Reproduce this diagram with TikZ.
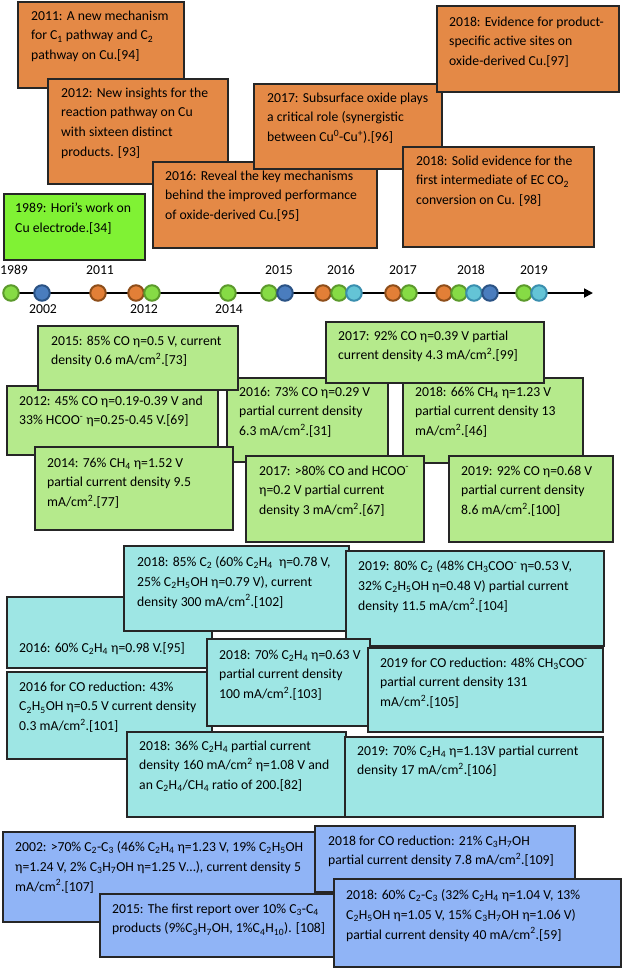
\documentclass[tikz,border=0pt]{standalone}
\usepackage{fontspec}
\setmainfont{Carlito}
\usetikzlibrary{arrows.meta}
\newcommand\subx[1]{\textsubscript{#1}}
\newcommand\supx[1]{\textsuperscript{#1}}
\definecolor{orfill}{RGB}{228,137,70}
\definecolor{limefill}{RGB}{128,242,52}
\definecolor{gfill}{RGB}{181,234,140}
\definecolor{cfill}{RGB}{158,230,228}
\definecolor{bfill}{RGB}{144,180,246}
\definecolor{edge}{RGB}{38,38,38}
\definecolor{cgf}{RGB}{134,219,69}\definecolor{cgd}{RGB}{92,154,44}
\definecolor{cof}{RGB}{226,127,55}\definecolor{cod}{RGB}{142,78,26}
\definecolor{cbf}{RGB}{74,125,190}\definecolor{cbd}{RGB}{43,83,133}
\definecolor{ccf}{RGB}{100,196,214}\definecolor{ccd}{RGB}{58,143,175}
\tikzset{
  box/.style={rectangle,draw=edge,line width=1.3pt,inner sep=0pt,outer sep=0pt,anchor=north west},
  obox/.style={box,fill=orfill},
  lbox/.style={box,fill=limefill},
  gbox/.style={box,fill=gfill},
  cbox/.style={box,fill=cfill},
  bbox/.style={box,fill=bfill},
  txt/.style={anchor=north west,inner sep=0pt,align=left,font=\fontsize{13.7}{19.7}\selectfont,execute at begin node=\rule{0pt}{11pt}},
  yr/.style={anchor=base,inner sep=0pt,font=\fontsize{13.7}{16}\selectfont},
  dot/.style={circle,minimum size=15.5pt,inner sep=0pt,line width=2pt},
  dg/.style={dot,draw=cgd,fill=cgf},
  do/.style={dot,draw=cod,fill=cof},
  db/.style={dot,draw=cbd,fill=cbf},
  dc/.style={dot,draw=ccd,fill=ccf},
}
\begin{document}
\begin{tikzpicture}[x=1pt,y=-1pt]
\useasboundingbox (0,0) rectangle (623,969);
% ---------- orange ----------
\node[obox,minimum width=166,minimum height=86] (o1) at (18,2) {};
\node[txt] (o1t) at (31,10.5) {2011: A new mechanism\\for C\subx{1} pathway and C\subx{2}\\pathway on Cu.[94]};
\node[obox,minimum width=180,minimum height=105] (o2) at (48,79) {};
\node[txt] (o2t) at (61,87.5) {2012: New insights for the\\reaction pathway on Cu\\with sixteen distinct\\products. [93]};
\node[obox,minimum width=224,minimum height=86] (o4) at (153,162) {};
\node[txt] (o4t) at (165,170.5) {2016: Reveal the key mechanisms\\behind the improved performance\\of oxide-derived Cu.[95]};
\node[obox,minimum width=188,minimum height=85] (o3) at (254,84) {};
\node[txt] (o3t) at (267,92.5) {2017: Subsurface oxide plays\\a critical role (synergistic\\between Cu\supx{0}-Cu\supx{+}).[96]};
\node[obox,minimum width=191,minimum height=100] (o6) at (403,147) {};
\node[txt] (o6t) at (416,155.5) {2018: Solid evidence for the\\first intermediate of EC CO\subx{2}\\conversion on Cu. [98]};
\node[obox,minimum width=182,minimum height=86] (o5) at (437,6) {};
\node[txt] (o5t) at (449,16.5) {2018: Evidence for product-\\specific active sites on\\oxide-derived Cu.[97]};
\node[lbox,minimum width=141,minimum height=66] (g0) at (4,194) {};
\node[txt] (g0t) at (15,202.5) {1989: Hori’s work on\\Cu electrode.[34]};
% ---------- timeline ----------
\coordinate (ts) at (6,293);
\coordinate (te) at (593,293);
\draw[line width=1.8pt,-{Triangle[length=9pt,width=9pt]}] (ts) -- (te);
\node[dg] (c1) at (11,293) {};
\node[db] (c2) at (42,293) {};
\node[do] (c3) at (98,293) {};
\node[do] (c4) at (136,293) {};
\node[dg] (c5) at (152,293) {};
\node[dg] (c6) at (228,293) {};
\node[dg] (c7) at (269,293) {};
\node[db] (c8) at (285,293) {};
\node[do] (c9) at (323,293) {};
\node[dg] (c10) at (339,293) {};
\node[dc] (c11) at (354,293) {};
\node[do] (c12) at (393,293) {};
\node[dg] (c13) at (409,293) {};
\node[do] (c14) at (444,293) {};
\node[dg] (c15) at (459,293) {};
\node[dc] (c16) at (474,293) {};
\node[db] (c17) at (490,293) {};
\node[dg] (c18) at (524,293) {};
\node[dc] (c19) at (539,293) {};
\node[yr] (y1989) at (14,274) {1989};
\node[yr] (y2011) at (100,274) {2011};
\node[yr] (y2015) at (279,274) {2015};
\node[yr] (y2016) at (341,274) {2016};
\node[yr] (y2017) at (403,274) {2017};
\node[yr] (y2018) at (471,274) {2018};
\node[yr] (y2019) at (534,274) {2019};
\node[yr] (y2002) at (43,313) {2002};
\node[yr] (y2012) at (144,313) {2012};
\node[yr] (y2014) at (229,313) {2014};
% ---------- green ----------
\node[gbox,minimum width=211,minimum height=69] (g2) at (7,386) {};
\node[txt] (g2t) at (19,395.5) {2012: 45\% CO η=0.19-0.39 V and\\33\% HCOO\supx{-} η=0.25-0.45 V.[69]};
\node[gbox,minimum width=161,minimum height=84] (g4) at (227,378) {};
\node[txt] (g4t) at (239,386.5) {2016: 73\% CO η=0.29 V\\partial current density\\6.3 mA/cm\supx{2}.[31]};
\node[gbox,minimum width=180,minimum height=85] (g6) at (403,378) {};
\node[txt] (g6t) at (415,386.5) {2018: 66\% CH\subx{4} η=1.23 V\\partial current density 13\\mA/cm\supx{2}.[46]};
\node[gbox,minimum width=200,minimum height=64] (g1) at (38,326) {};
\node[txt] (g1t) at (51,335.5) {2015: 85\% CO η=0.5 V, current\\density 0.6 mA/cm\supx{2}.[73]};
\node[gbox,minimum width=198,minimum height=83] (g3) at (35,447) {};
\node[txt] (g3t) at (47,457.5) {2014: 76\% CH\subx{4} η=1.52 V\\partial current density 9.5\\mA/cm\supx{2}.[77]};
\node[gbox,minimum width=218,minimum height=61] (g5) at (326,322) {};
\node[txt] (g5t) at (338,330.5) {2017: 92\% CO η=0.39 V partial\\current density 4.3 mA/cm\supx{2}.[99]};
\node[gbox,minimum width=178,minimum height=86] (g7) at (246,456) {};
\node[txt] (g7t) at (259,465.5) {2017: >80\% CO and HCOO\supx{-}\\η=0.2 V partial current\\density 3 mA/cm\supx{2}.[67]};
\node[gbox,minimum width=164,minimum height=86] (g8) at (449,456) {};
\node[txt] (g8t) at (461,465.5) {2019: 92\% CO η=0.68 V\\partial current density\\8.6 mA/cm\supx{2}.[100]};
% ---------- cyan ----------
\node[cbox,minimum width=205,minimum height=71] (k2) at (7,597) {};
\node[txt] (k2t) at (19,641.5) {2016: 60\% C\subx{2}H\subx{4} η=0.98 V.[95]};
\node[cbox,minimum width=205,minimum height=87] (k3) at (7,672) {};
\node[txt] (k3t) at (19,681.5) {2016 for CO reduction: 43\%\\C\subx{2}H\subx{5}OH η=0.5 V current density\\0.3 mA/cm\supx{2}.[101]};
\node[cbox,minimum width=225,minimum height=85] (k1) at (124,546) {};
\node[txt] (k1t) at (137,556.5) {2018: 85\% C\subx{2} (60\% C\subx{2}H\subx{4}\ \ η=0.78 V,\\25\% C\subx{2}H\subx{5}OH η=0.79 V), current\\density 300 mA/cm\supx{2}.[102]};
\node[cbox,minimum width=258,minimum height=95] (k6) at (346,551) {};
\node[txt] (k6t) at (358,560.5) {2019: 80\% C\subx{2} (48\% CH\subx{3}COO\supx{-} η=0.53 V,\\32\% C\subx{2}H\subx{5}OH η=0.48 V) partial current\\density 11.5 mA/cm\supx{2}.[104]};
\node[cbox,minimum width=163,minimum height=87] (k4) at (207,639) {};
\node[txt] (k4t) at (219,649.5) {2018: 70\% C\subx{2}H\subx{4} η=0.63 V\\partial current density\\100 mA/cm\supx{2}.[103]};
\node[cbox,minimum width=235,minimum height=84] (k7) at (368,648) {};
\node[txt] (k7t) at (380,657.5) {2019 for CO reduction: 48\% CH\subx{3}COO\supx{-}\\partial current density 131\\mA/cm\supx{2}.[105]};
\node[cbox,minimum width=219,minimum height=85] (k5) at (127,732) {};
\node[txt] (k5t) at (139,740.5) {2018: 36\% C\subx{2}H\subx{4} partial current\\density 160 mA/cm\supx{2} η=1.08 V and\\an C\subx{2}H\subx{4}/CH\subx{4} ratio of 200.[82]};
\node[cbox,minimum width=258,minimum height=80] (k8) at (345,737) {};
\node[txt] (k8t) at (357,745.5) {2019: 70\% C\subx{2}H\subx{4} η=1.13V partial current\\density 17 mA/cm\supx{2}.[106]};
% ---------- blue ----------
\node[bbox,minimum width=317,minimum height=90] (b1) at (3,832) {};
\node[txt] (b1t) at (15,841.5) {2002: >70\% C\subx{2}-C\subx{3} (46\% C\subx{2}H\subx{4} η=1.23 V, 19\% C\subx{2}H\subx{5}OH\\η=1.24 V, 2\% C\subx{3}H\subx{7}OH η=1.25 V…), current density 5\\mA/cm\supx{2}.[107]};
\node[bbox,minimum width=260,minimum height=66] (b2) at (315,826) {};
\node[txt] (b2t) at (328,835.5) {2018 for CO reduction: 21\% C\subx{3}H\subx{7}OH\\partial current density 7.8 mA/cm\supx{2}.[109]};
\node[bbox,minimum width=240,minimum height=63] (b3) at (100,894) {};
\node[txt] (b3t) at (112,903.5) {2015: The first report over 10\% C\subx{3}-C\subx{4}\\products (9\%C\subx{3}H\subx{7}OH, 1\%C\subx{4}H\subx{10}). [108]};
\node[bbox,minimum width=287,minimum height=88] (b4) at (334,879) {};
\node[txt] (b4t) at (346,889.5) {2018: 60\% C\subx{2}-C\subx{3} (32\% C\subx{2}H\subx{4} η=1.04 V, 13\%\\C\subx{2}H\subx{5}OH η=1.05 V, 15\% C\subx{3}H\subx{7}OH η=1.06 V)\\partial current density 40 mA/cm\supx{2}.[59]};
\end{tikzpicture}
\end{document}
